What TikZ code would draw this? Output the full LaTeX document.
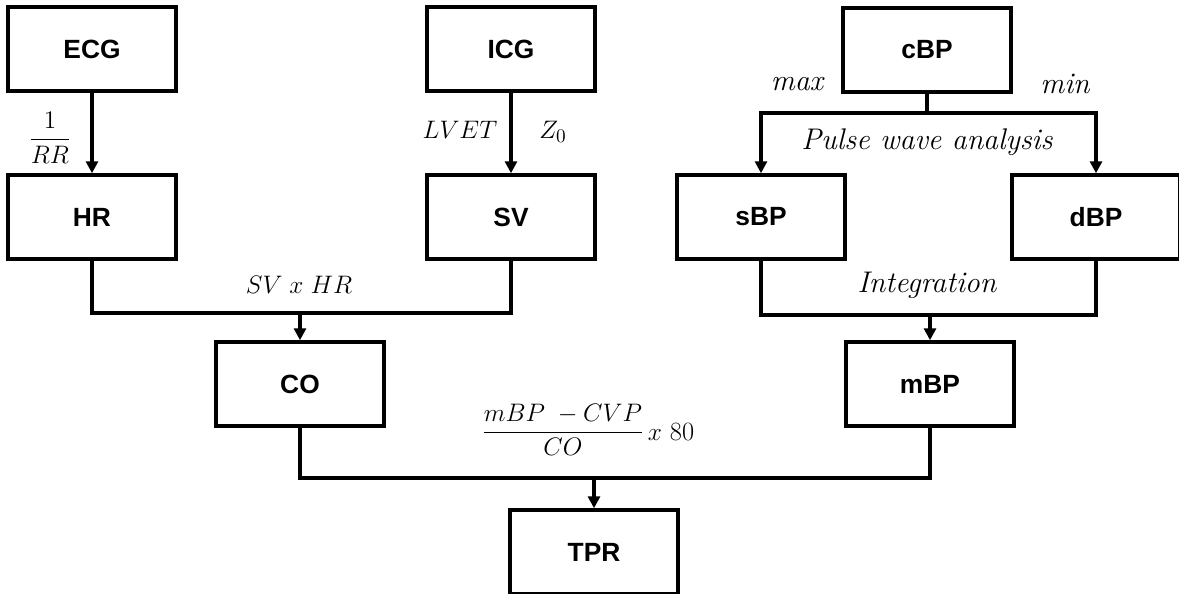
\documentclass[tikz,border=0pt]{standalone}
\usepackage{amsmath}
\usepackage{fontspec}
\setsansfont{Liberation Sans}
\usepackage{tikz}
\usetikzlibrary{arrows.meta}

\tikzset{
  block/.style={draw, line width=2pt, minimum width=3.36cm, minimum height=1.68cm,
    inner sep=0pt, font=\sffamily\bfseries\fontsize{15}{17}\selectfont},
  flow/.style={line width=2pt},
  flowarrow/.style={line width=2pt, -{Triangle[length=2.4mm,width=2.4mm]}},
  lbl/.style={font=\fontsize{17}{19}\selectfont\itshape, inner sep=0pt},
  mlbl/.style={font=\fontsize{15}{17}\selectfont, inner sep=0pt}
}

\begin{document}
\begin{tikzpicture}[x=0.02cm,y=-0.02cm]
      \useasboundingbox (0,0) rectangle (1179,594);

      % sources
      \node[block] (ecg) at (92,49) {ECG};
      \node[block] (icg) at (511,49) {ICG};
      \node[block] (cbp) at (927,50) {cBP};

      % derived values
      \node[block] (hr)  at (92,217)   {HR};
      \node[block] (sv)  at (511,217)  {SV};
      \node[block] (sbp) at (761,217)  {sBP};
      \node[block] (dbp) at (1096,217) {dBP};
      \node[block] (co)  at (300,384)  {CO};
      \node[block] (mbp) at (930,384)  {mBP};
      \node[block] (tpr) at (594,552)  {TPR};

      % junctions
      \coordinate (cbpj) at (927,113);
      \coordinate (coj)  at (300,313);
      \coordinate (mbpj) at (930,315);
      \coordinate (tprj) at (594,478);

      \draw[flowarrow] (ecg) -- (hr);
      \draw[flowarrow] (icg) -- (sv);

      \draw[flow] (cbp.south) -- (cbpj);
      \draw[flowarrow] (cbpj) -| (sbp.north);
      \draw[flowarrow] (cbpj) -| (dbp.north);

      \draw[flow] (hr.south) |- (coj) -| (sv.south);
      \draw[flowarrow] (coj) -- (co.north);

      \draw[flow] (sbp.south) |- (mbpj) -| (dbp.south);
      \draw[flowarrow] (mbpj) -- (mbp.north);

      \draw[flow] (co.south) |- (tprj) -| (mbp.south);
      \draw[flowarrow] (tprj) -- (tpr.north);

      % labels
      \node[mlbl] (rr)    at (50,138)  {$\dfrac{1}{RR}$};
      \node[mlbl] (lvet)  at (460,130) {$LVET$};
      \node[mlbl] (zo)    at (553,132) {$Z_0$};
      \node[lbl] (maxl)  at (797,84)  {max};
      \node[lbl] (minl)  at (1065,84) {min};
      \node[lbl] (pwa)   at (927,142) {Pulse wave analysis};
      \node[mlbl] (svhr)  at (299,285) {$SV\;x\;HR$};
      \node[lbl] (integ) at (927,285) {Integration};
      \node[mlbl] (tprf)  at (563,430) {$\dfrac{mBP\;-CVP}{CO}$};
      \node[mlbl] (x80)   at (671,432) {$x$ 80};
    \end{tikzpicture}
\end{document}
